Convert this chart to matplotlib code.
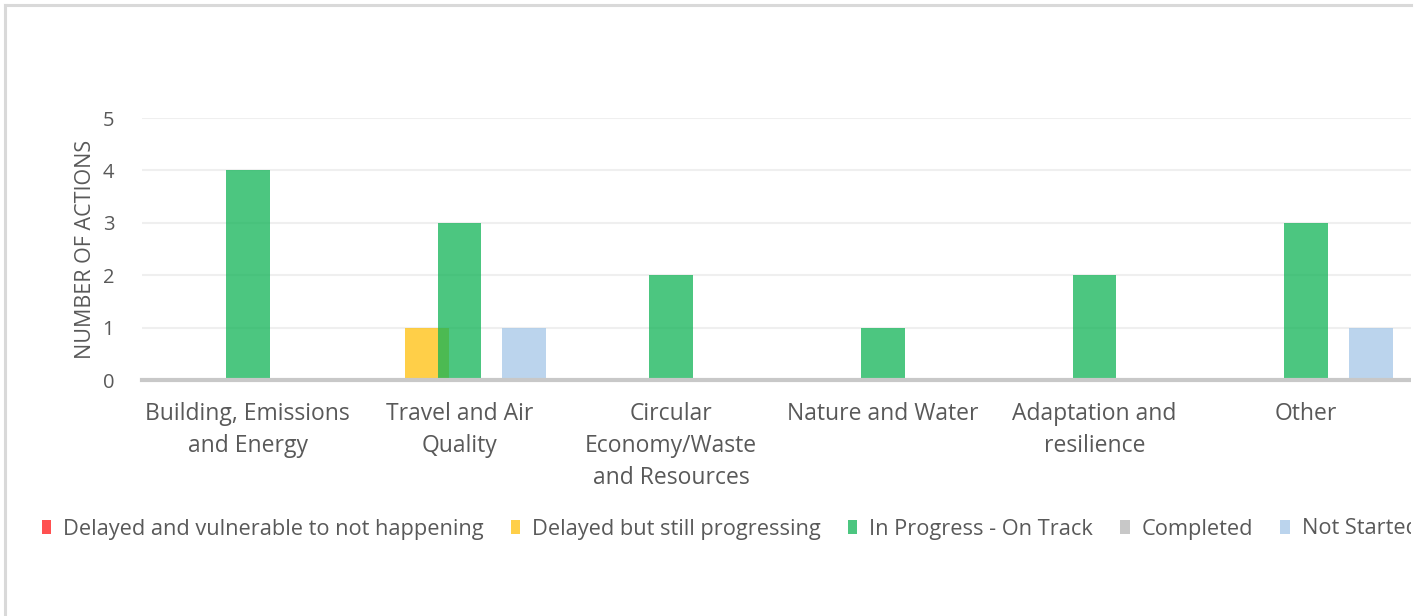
import matplotlib
matplotlib.use("Agg")
import matplotlib.pyplot as plt
from matplotlib.lines import Line2D
from matplotlib.patches import Rectangle
import numpy as np

categories = ["Building, Emissions\nand Energy", "Travel and Air\nQuality",
              "Circular\nEconomy/Waste\nand Resources", "Nature and Water",
              "Adaptation and\nresilience", "Other"]
series_names = ["Delayed and vulnerable to not happening", "Delayed but still progressing",
                "In Progress - On Track", "Completed", "Not Started"]
delayed_vulnerable = [0, 0, 0, 0, 0, 0]
delayed_progressing = [0, 1, 0, 0, 0, 0]
in_progress = [4, 3, 2, 1, 2, 3]
completed = [0, 0, 0, 0, 0, 0]
not_started = [0, 1, 0, 0, 0, 1]
y_ticks = [0, 1, 2, 3, 4, 5]

series_values = [delayed_vulnerable, delayed_progressing, in_progress, completed, not_started]
colors = [(1.0, 22/255, 22/255), (1.0, 192/255, 11/255), (16/255, 179/255, 86/255),
          (182/255, 182/255, 182/255), (164/255, 198/255, 232/255)]

W, H = 1423, 616
fig = plt.figure(figsize=(W/100, H/100), dpi=100)
plt.rcParams['font.family'] = ['Open Sans', 'DejaVu Sans']
txt = '#595959'

ax = fig.add_axes([142/W, 1-380/H, (1412-142)/W, (380-118)/H])
x = np.arange(len(categories))
step = 0.153
width = 0.2075
handles = []
for i, (vals, c, name) in enumerate(zip(series_values, colors, series_names)):
    b = ax.bar(x + (i-2)*step, vals, width, color=c, alpha=0.75, label=name, zorder=3)
    handles.append(b)

ax.set_xlim(-0.5, len(categories)-0.5)
ax.set_ylim(0, 5)
ax.set_yticks(y_ticks)
ax.yaxis.grid(True, color='#EFEFEF', lw=1.5, zorder=0)
for s in ['top', 'right', 'left']:
    ax.spines[s].set_visible(False)
ax.spines['bottom'].set_color('#C8C8C8')
ax.spines['bottom'].set_linewidth(3)
ax.spines['bottom'].set_zorder(4)
ax.tick_params(axis='both', length=0, labelcolor=txt)
ax.tick_params(axis='y', pad=20, labelsize=14.5)
ax.tick_params(axis='x', pad=16, labelsize=16.5)
ax.set_xticks(x)
ax.set_xticklabels(categories, linespacing=1.44)
ax.set_ylabel("NUMBER OF ACTIONS", color=txt, fontsize=15.5, labelpad=5)

leg = fig.legend(handles=handles, loc='center left', bbox_to_anchor=(42/W, 1-529/H),
                 ncol=5, frameon=False, fontsize=15.7, handlelength=0.42, handleheight=0.62,
                 handletextpad=0.55, columnspacing=1.25, borderpad=0, borderaxespad=0)
for t in leg.get_texts():
    t.set_color(txt)

# clipped right part of the picture is blank
fig.add_artist(Rectangle((1411/W, 0), 1 - 1411/W, 1, transform=fig.transFigure,
                         facecolor='white', edgecolor='none', zorder=10))
# chart area border (clipped right & bottom)
fig.add_artist(Line2D([5/W, 5/W], [1-5/H, -0.1], transform=fig.transFigure, color='#D9D9D9', lw=2.2, zorder=11))
fig.add_artist(Line2D([5/W, 1411/W], [1-5/H, 1-5/H], transform=fig.transFigure, color='#D9D9D9', lw=2.2, zorder=11))

fig.savefig("out.png", dpi=100)
